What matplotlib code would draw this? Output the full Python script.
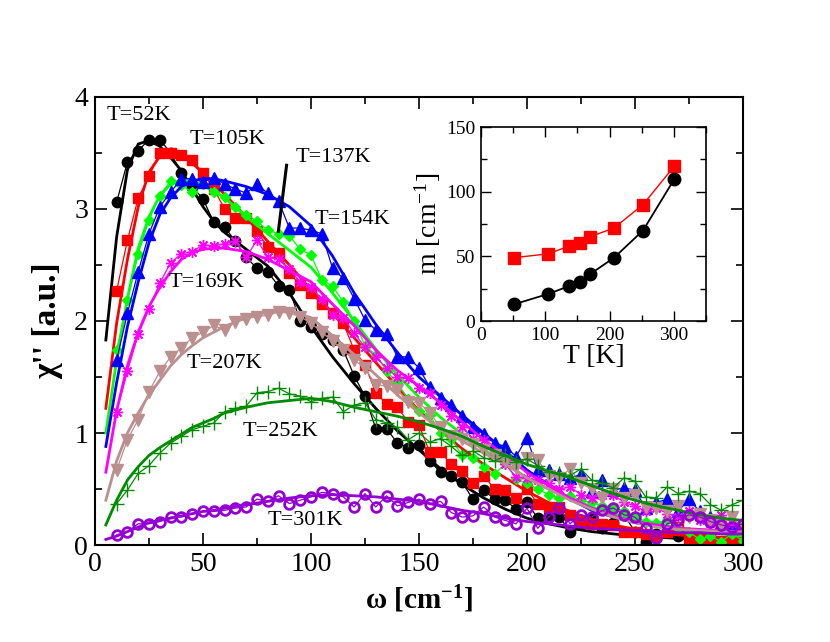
import matplotlib
matplotlib.use("Agg")
import matplotlib.pyplot as plt
from matplotlib.ticker import MultipleLocator

plt.rcParams['font.family'] = ['Liberation Serif', 'DejaVu Serif']
plt.rcParams['mathtext.fontset'] = 'custom'
plt.rcParams['mathtext.rm'] = 'Liberation Serif'
plt.rcParams['mathtext.bf'] = 'Liberation Serif:bold'
plt.rcParams['mathtext.default'] = 'regular'

# measured spectra, omega = 10 ... 300 cm^-1 step 5
omega = list(range(10, 305, 5))

chi_52 = [3.06, 3.42, 3.52, 3.62, 3.62, 3.50, 3.32, 3.20, 3.09, 2.88,
          2.84, 2.71, 2.57, 2.47, 2.44, 2.31, 2.28, 2.00, 1.95, 1.88,
          1.83, 1.74, 1.51, 1.33, 1.04, 1.04, 0.91, 0.87, 0.89, 0.75,
          0.65, 0.62, 0.56, 0.41, 0.49, 0.41, 0.40, 0.32, 0.38, 0.24,
          0.27, 0.25, 0.12, 0.20, 0.25, 0.15, 0.20, 0.27, 0.12, 0.03,
          0.10, 0.12, 0.08, 0.10, 0.06, 0.04, 0.00, 0.05, 0.04]
chi_105 = [2.27, 2.72, 3.10, 3.29, 3.50, 3.50, 3.48, 3.44, 3.32, 3.18,
           3.00, 2.92, 2.92, 2.80, 2.66, 2.61, 2.43, 2.32, 2.25, 2.15,
           2.07, 1.98, 1.74, 1.61, 1.36, 1.26, 1.23, 1.10, 1.07, 0.83,
           0.83, 0.72, 0.66, 0.55, 0.62, 0.50, 0.49, 0.42, 0.50, 0.37,
           0.34, 0.34, 0.27, 0.21, 0.19, 0.19, 0.18, 0.12, 0.12, 0.10,
           0.08, 0.12, 0.16, 0.04, 0.06, 0.05, 0.02, 0.05, 0.03]
chi_137 = [1.74, 2.19, 2.60, 2.90, 3.12, 3.25, 3.21, 3.15, 3.22, 3.15,
           3.11, 3.02, 2.95, 2.89, 2.81, 2.78, 2.76, 2.64, 2.59, 2.37,
           2.31, 2.17, 2.00, 1.78, 1.70, 1.55, 1.45, 1.30, 1.20, 1.16,
           1.00, 0.95, 0.80, 0.78, 0.70, 0.63, 0.73, 0.59, 0.55, 0.50,
           0.45, 0.42, 0.44, 0.40, 0.38, 0.35, 0.34, 0.30, 0.25, 0.21,
           0.20, 0.22, 0.15, 0.12, 0.05, 0.08, 0.03, 0.10, 0.04]
chi_154 = [1.65, 2.07, 2.44, 2.78, 3.02, 3.15, 3.27, 3.27, 3.24, 3.28,
           3.22, 3.18, 3.14, 3.22, 3.14, 3.07, 2.83, 2.83, 2.81, 2.78,
           2.47, 2.38, 2.20, 2.01, 1.92, 1.88, 1.68, 1.68, 1.58, 1.41,
           1.31, 1.25, 1.15, 1.05, 0.99, 0.91, 0.88, 0.79, 0.96, 0.67,
           0.67, 0.63, 0.60, 0.63, 0.48, 0.58, 0.49, 0.51, 0.49, 0.33,
           0.38, 0.41, 0.30, 0.41, 0.30, 0.25, 0.20, 0.15, 0.20]
chi_169 = [1.19, 1.55, 1.88, 2.11, 2.34, 2.52, 2.60, 2.62, 2.68, 2.67,
           2.69, 2.71, 2.57, 2.72, 2.57, 2.55, 2.46, 2.35, 2.30, 2.20,
           2.05, 2.03, 1.89, 1.77, 1.68, 1.58, 1.50, 1.49, 1.40, 1.36,
           1.25, 1.15, 1.05, 0.95, 0.94, 0.80, 0.72, 0.61, 0.60, 0.58,
           0.55, 0.50, 0.52, 0.45, 0.42, 0.45, 0.45, 0.38, 0.35, 0.30,
           0.33, 0.28, 0.25, 0.30, 0.22, 0.20, 0.27, 0.20, 0.15]
chi_207 = [0.67, 0.94, 1.12, 1.37, 1.55, 1.68, 1.76, 1.85, 1.90, 1.96,
           1.92, 1.99, 2.02, 2.04, 2.05, 2.08, 2.07, 2.04, 1.98, 1.90,
           1.82, 1.74, 1.65, 1.58, 1.43, 1.42, 1.38, 1.28, 1.27, 1.18,
           1.05, 0.97, 0.95, 0.90, 0.85, 0.80, 0.75, 0.70, 0.78, 0.76,
           0.62, 0.60, 0.68, 0.55, 0.50, 0.42, 0.50, 0.42, 0.45, 0.34,
           0.33, 0.30, 0.35, 0.25, 0.28, 0.22, 0.18, 0.25, 0.15]
chi_252 = [0.37, 0.49, 0.64, 0.71, 0.82, 0.91, 0.97, 1.03, 1.06, 1.09,
           1.19, 1.22, 1.24, 1.36, 1.37, 1.40, 1.35, 1.33, 1.28, 1.31,
           1.32, 1.19, 1.25, 1.27, 1.12, 1.09, 1.05, 0.94, 1.00, 0.92,
           0.95, 0.88, 0.80, 0.84, 0.78, 0.75, 0.80, 0.74, 0.77, 0.71,
           0.65, 0.64, 0.62, 0.68, 0.58, 0.55, 0.51, 0.60, 0.57, 0.43,
           0.42, 0.52, 0.46, 0.48, 0.46, 0.36, 0.31, 0.36, 0.40]
chi_301 = [0.09, 0.12, 0.19, 0.19, 0.21, 0.25, 0.25, 0.28, 0.30, 0.30,
           0.31, 0.33, 0.34, 0.41, 0.39, 0.44, 0.37, 0.40, 0.43, 0.47,
           0.46, 0.43, 0.34, 0.46, 0.34, 0.44, 0.35, 0.38, 0.41, 0.37,
           0.39, 0.29, 0.25, 0.26, 0.34, 0.25, 0.22, 0.19, 0.33, 0.15,
           0.25, 0.33, 0.19, 0.27, 0.25, 0.31, 0.33, 0.27, 0.25, 0.15,
           0.06, 0.19, 0.22, 0.27, 0.25, 0.21, 0.18, 0.16, 0.19]

# fitted curves
fit_x = [5, 10, 15, 20, 25, 30, 35, 40, 45, 50, 55, 60, 70, 80, 90, 100, 110, 120,
         130, 140, 150, 160, 170, 180, 190, 200, 210, 220, 230, 240, 250, 260, 270,
         280, 290, 300]
fit_52 = [1.83, 2.75, 3.35, 3.58, 3.61, 3.56, 3.46, 3.34, 3.18, 3.02, 2.89, 2.79,
          2.64, 2.49, 2.25, 1.95, 1.68, 1.44, 1.22, 1.02, 0.85, 0.68, 0.54, 0.42,
          0.32, 0.24, 0.19, 0.15, 0.12, 0.10, 0.08, 0.07, 0.06, 0.05, 0.05, 0.04]
fit_105 = [1.22, 1.98, 2.55, 3.02, 3.33, 3.47, 3.51, 3.48, 3.41, 3.32, 3.23, 3.13,
           2.93, 2.71, 2.50, 2.28, 2.07, 1.85, 1.63, 1.41, 1.20, 1.02, 0.86, 0.72,
           0.60, 0.48, 0.38, 0.30, 0.23, 0.18, 0.14, 0.11, 0.09, 0.08, 0.07, 0.06]
fit_137 = [1.00, 1.65, 2.20, 2.65, 2.93, 3.12, 3.22, 3.26, 3.25, 3.21, 3.16, 3.10,
           2.93, 2.78, 2.63, 2.48, 2.25, 2.00, 1.75, 1.52, 1.32, 1.14, 0.99, 0.85,
           0.73, 0.60, 0.50, 0.42, 0.34, 0.28, 0.23, 0.19, 0.15, 0.12, 0.10, 0.08]
fit_154 = [0.88, 1.45, 1.95, 2.35, 2.70, 2.95, 3.10, 3.20, 3.25, 3.27, 3.27, 3.25,
           3.20, 3.13, 3.02, 2.85, 2.58, 2.25, 1.97, 1.72, 1.50, 1.33, 1.16, 1.00,
           0.84, 0.67, 0.54, 0.41, 0.31, 0.25, 0.20, 0.17, 0.15, 0.13, 0.12, 0.12]
fit_169 = [0.65, 1.20, 1.60, 1.90, 2.13, 2.30, 2.44, 2.55, 2.61, 2.64, 2.65, 2.65,
           2.62, 2.55, 2.45, 2.35, 2.15, 1.96, 1.74, 1.56, 1.42, 1.27, 1.10, 0.94,
           0.80, 0.65, 0.53, 0.42, 0.33, 0.26, 0.21, 0.18, 0.15, 0.14, 0.13, 0.12]
fit_207 = [0.40, 0.75, 1.00, 1.18, 1.34, 1.47, 1.60, 1.70, 1.78, 1.85, 1.90, 1.95,
           2.03, 2.08, 2.09, 2.03, 1.87, 1.70, 1.52, 1.34, 1.18, 1.03, 0.93, 0.82,
           0.72, 0.60, 0.50, 0.40, 0.32, 0.25, 0.20, 0.16, 0.14, 0.13, 0.12, 0.11]
fit_252 = [0.18, 0.40, 0.58, 0.70, 0.80, 0.87, 0.93, 0.99, 1.05, 1.09, 1.13, 1.18,
           1.23, 1.27, 1.29, 1.31, 1.28, 1.23, 1.19, 1.15, 1.10, 1.04, 0.97, 0.88,
           0.80, 0.72, 0.66, 0.60, 0.53, 0.46, 0.40, 0.35, 0.31, 0.27, 0.24, 0.22]
fit_301 = [0.05, 0.08, 0.12, 0.16, 0.20, 0.22, 0.24, 0.26, 0.28, 0.30, 0.31, 0.33,
           0.36, 0.39, 0.42, 0.44, 0.45, 0.44, 0.43, 0.41, 0.39, 0.35, 0.31, 0.28,
           0.24, 0.21, 0.19, 0.17, 0.15, 0.14, 0.13, 0.12, 0.11, 0.11, 0.10, 0.10]

# inset
temps = [52, 105, 137, 154, 169, 207, 252, 301]
m_red = [49, 52, 58, 60, 65, 72, 90, 120]
m_black = [13, 21, 27, 30, 36, 49, 70, 110]

labels = ["T=52K", "T=105K", "T=137K", "T=154K", "T=169K", "T=207K", "T=252K", "T=301K"]
label_pos = [(5.5, 3.83), (44, 3.62), (93, 3.46), (101.5, 2.91),
             (34, 2.34), (42.5, 1.62), (68.5, 1.01), (80, 0.22)]

fig = plt.figure(figsize=(8.3, 6.42), dpi=100)
ax = fig.add_axes([0.1145, 0.151, 0.7805, 0.698])

sets = [
    (chi_52, fit_52, 'black', 'o', {'markersize': 7.5}),
    (chi_105, fit_105, '#ff0000', 's', {'markersize': 7.5}),
    (chi_137, fit_137, '#00ff00', 'D', {'markersize': 5.5}),
    (chi_154, fit_154, '#0000ff', '^', {'markersize': 8}),
    (chi_169, fit_169, '#ff00ff', (8, 2, 0), {'markeredgewidth': 1.0, 'markersize': 8}),
    (chi_207, fit_207, '#bc8f8f', 'v', {'markersize': 8}),
    (chi_252, fit_252, '#008b00', '+', {'markersize': 10, 'markeredgewidth': 1.0}),
    (chi_301, fit_301, '#9400d3', 'o', {'markerfacecolor': 'none', 'markeredgewidth': 2.0,
                                       'markersize': 7}),
]
for data, fit, col, mk, kw in sets:
    opts = dict(marker=mk, color=col, linewidth=0.9)
    opts.update(kw)
    ax.plot(omega, data, **opts)
    ax.plot(fit_x, fit, color=col, linewidth=2.0)

for txt, (tx, ty) in zip(labels, label_pos):
    ax.text(tx, ty, txt, fontsize=16, ha='left', va='center')
ax.plot([84.9, 88.7], [2.8, 3.39], color='black', linewidth=2.2)

ax.set_xlim(0, 300)
ax.set_ylim(0, 4)
ax.xaxis.set_major_locator(MultipleLocator(50))
ax.xaxis.set_minor_locator(MultipleLocator(25))
ax.yaxis.set_major_locator(MultipleLocator(1))
ax.yaxis.set_minor_locator(MultipleLocator(0.5))
ax.tick_params(which='both', direction='in', top=True, right=True, labelsize=20, width=1.2)
ax.tick_params(which='major', length=8.5, pad=5)
ax.tick_params(which='minor', length=5)
for sp in ax.spines.values():
    sp.set_linewidth(1.5)
ax.set_xlabel(r'ω [cm$^{\mathbf{-1}}$]', fontsize=21, fontweight='bold', labelpad=5)
ax.set_ylabel("χ'' [a.u.]", fontsize=24, fontweight='bold', labelpad=8)

ins = fig.add_axes([0.5795, 0.5, 0.2711, 0.302])
ins.plot(temps, m_red, color='#ff0000', marker='s', markersize=9, linewidth=1.0)
ins.plot(temps, m_black, color='black', marker='o', markersize=9, linewidth=1.3)
ins.set_xlim(0, 350)
ins.set_ylim(0, 150)
ins.xaxis.set_major_locator(MultipleLocator(100))
ins.xaxis.set_minor_locator(MultipleLocator(50))
ins.yaxis.set_major_locator(MultipleLocator(50))
ins.yaxis.set_minor_locator(MultipleLocator(25))
ins.tick_params(which='both', direction='in', top=True, right=True, labelsize=14, width=1.0)
ins.tick_params(which='major', length=7, pad=4)
ins.tick_params(which='minor', length=4)
for sp in ins.spines.values():
    sp.set_linewidth(1.2)
ins.set_xlabel('T [K]', fontsize=20, labelpad=0)
ins.set_ylabel(r'm [cm$^{-1}$]', fontsize=20, labelpad=2)

fig.savefig("out.png", dpi=100)
